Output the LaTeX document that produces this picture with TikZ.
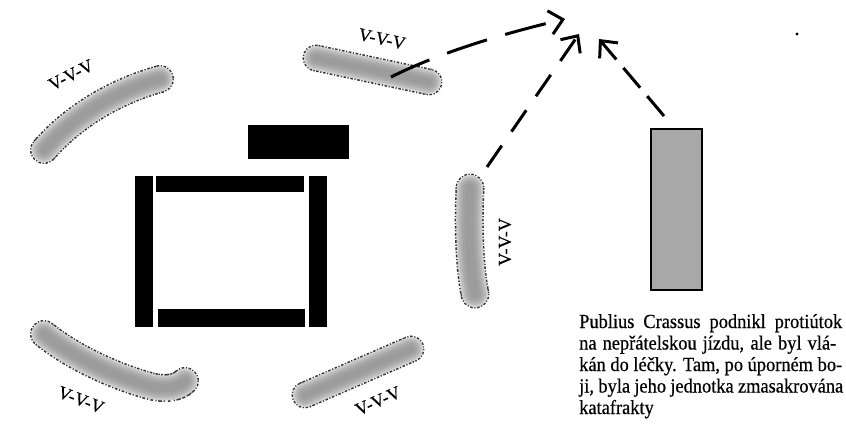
\documentclass[tikz,border=0pt]{standalone}
\usepackage{fontspec}
\setmainfont{Liberation Serif}
\newfontfamily\bodyfont[FakeStretch=0.92,FakeBold=0.5]{Liberation Serif}
\newfontfamily\labelfont[FakeBold=0.5]{Liberation Serif}
\usetikzlibrary{arrows.meta}
\newcommand\blobshape[4]{%
  \draw[line width=#1pt+3pt, black!80, line cap=butt, dash pattern=on 1.2pt off 1.6pt on 2.6pt off 1.6pt] #2;
  \draw[line width=1.5pt, black!80, dash pattern=on 1.2pt off 1.6pt on 2.6pt off 1.6pt] #3 circle[radius=#1/2+0.75];
  \draw[line width=1.5pt, black!80, dash pattern=on 1.2pt off 1.6pt on 2.6pt off 1.6pt] #4 circle[radius=#1/2+0.75];
  \draw[line width=#1pt, black!20, line cap=round] #2;
  \draw[line width=#1pt-4pt, black!27, line cap=round] #2;
  \draw[line width=#1pt-8pt, black!32, line cap=round] #2;
  \draw[line width=#1pt-12pt, black!36, line cap=round] #2;
  \draw[line width=#1pt-17pt, black!39, line cap=round] #2;
}
\begin{document}
\begin{tikzpicture}[x=1pt,y=-1pt,
  bar/.style={fill=black},
  vlabel/.style={font=\labelfont\fontsize{18}{18}\selectfont, inner sep=0pt},
  arr/.style={line width=3pt, -{Straight Barb[length=13pt,width=24pt]}},
]
\useasboundingbox (0,0) rectangle (846,426);

% blobs
\blobshape{25}{(44,150) .. controls (70,120) and (110,93) .. (160,79)}{(44,150)}{(160,79)}
\blobshape{24}{(316,58) -- (429,82)}{(316,58)}{(429,82)}
\blobshape{26}{(470,188) .. controls (468,230) and (470,270) .. (475,294)}{(470,188)}{(475,294)}
\blobshape{25}{(44,334) .. controls (70,355) and (110,375) .. (150,386) .. controls (165,390) and (178,388) .. (185,381)}{(44,334)}{(185,381)}
\blobshape{24}{(305,395) -- (411,349)}{(305,395)}{(411,349)}

% labels
\node[vlabel, rotate=27] (l1) at (71,75) {V-V-V};
\node[vlabel, rotate=-12] (l2) at (382,39) {V-V-V};
\node[vlabel, rotate=90] (l3) at (505,242) {V-V-V};
\node[vlabel, rotate=-21] (l4) at (81,400) {V-V-V};
\node[vlabel, rotate=24] (l5) at (378,401) {V-V-V};

% square
\fill[bar] (248,125) rectangle (349,159);
\fill[bar] (135,176) rectangle (153,327);
\fill[bar] (156,176) rectangle (304,192);
\fill[bar] (309,176) rectangle (327,327);
\fill[bar] (158,309) rectangle (305,327);

% gray rectangle
\node[draw=black, line width=2.5pt, fill=black!34, minimum width=51pt, minimum height=161pt, inner sep=0pt] (pc) at (676.5,209.5) {};

% dot
\fill (797,34) circle[radius=1.6];

% arrows
\coordinate (a1s) at (391,77);
\coordinate (a1e) at (565,19);
\coordinate (a2s) at (487,167);
\coordinate (a2e) at (579,34);
\coordinate (a3s) at (664,116);
\coordinate (a3e) at (599,39);
\draw[arr, dash pattern=on 42pt off 19pt] (a1s) .. controls (435,55) and (493,36) .. (a1e);
\draw[arr, dash pattern=on 26pt off 17pt] (a2s) -- (a2e);
\draw[arr, dash pattern=on 26pt off 11pt] (a3s) -- (a3e);

% text
\node[anchor=base west, inner sep=0pt] (txt) at (579,328) {\parbox[t]{264pt}{\bodyfont\fontsize{20}{21.5}\selectfont
\hbox to 263pt{Publius Crassus podnikl protiútok}
\hbox to 257pt{na nepřátelskou jízdu, ale byl vlá-}
\hbox to 263pt{kán do léčky. Tam, po úporném bo-}
\hbox to 264pt{ji, byla jeho jednotka zmasakrována}
\hbox{katafrakty}}};
\end{tikzpicture}
\end{document}
